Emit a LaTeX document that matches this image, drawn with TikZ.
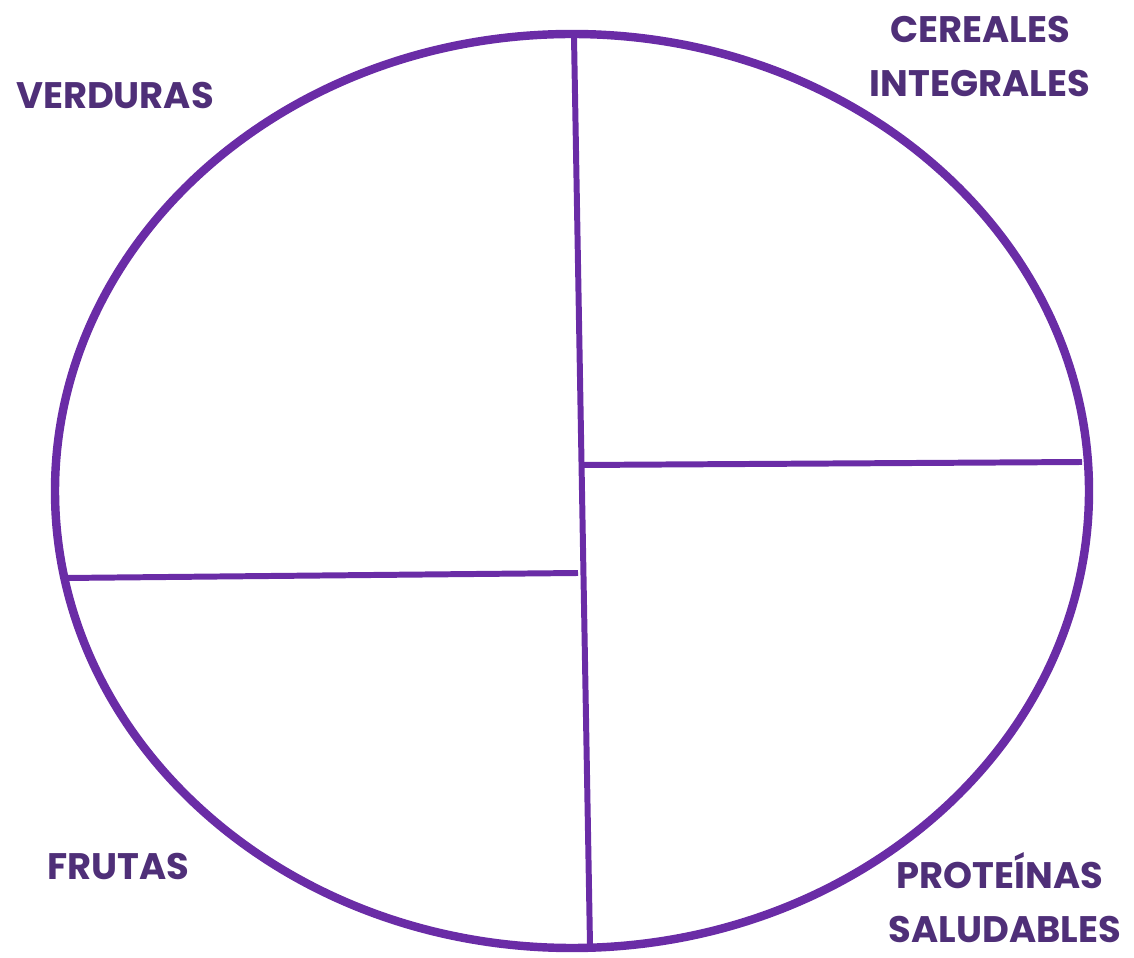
\documentclass[tikz,border=0pt]{standalone}
\usepackage{fontspec}
\setmainfont{Poppins}
\usepackage{xcolor}
\usepackage{tikz}
\usetikzlibrary{positioning}
\definecolor{platepurple}{HTML}{6A2CA6}
\definecolor{labelpurple}{HTML}{4F2F78}

\begin{document}
\begin{tikzpicture}[
  rim/.style={draw=platepurple, line width=4.8pt},
  divider/.style={draw=platepurple, line width=3.4pt},
  group/.style={font=\fontsize{21}{24}\selectfont\bfseries, text=labelpurple,
                align=center, inner sep=0pt},
]
\useasboundingbox (0,0) rectangle (22.68,19.16);

% plate
\draw[rim] (11.44,9.34) ellipse [x radius=10.34, y radius=9.14];

\coordinate (top) at (11.48,18.42);
\coordinate (bottom) at (11.80,0.26);
\coordinate (midright) at (11.62,9.86);
\coordinate (rightend) at (21.64,9.92);
\coordinate (leftend) at (1.30,7.60);
\coordinate (midleft) at (11.56,7.70);

\draw[divider] (top) -- (bottom);
\draw[divider] (midright) -- (rightend);
\draw[divider] (leftend) -- (midleft);

% labels
\node[group] (verduras) at (2.30,17.26) {VERDURAS};
\node[group] (cereales) at (19.60,18.56) {CEREALES};
\node[group] (integrales) at (19.60,17.50) {INTEGRALES};
\node[group] (frutas) at (2.36,1.84) {FRUTAS};
\node[group] (proteinas) at (20.00,1.74) {PROTEÍNAS};
\node[group] (saludables) at (20.10,0.58) {SALUDABLES};

\end{tikzpicture}
\end{document}
